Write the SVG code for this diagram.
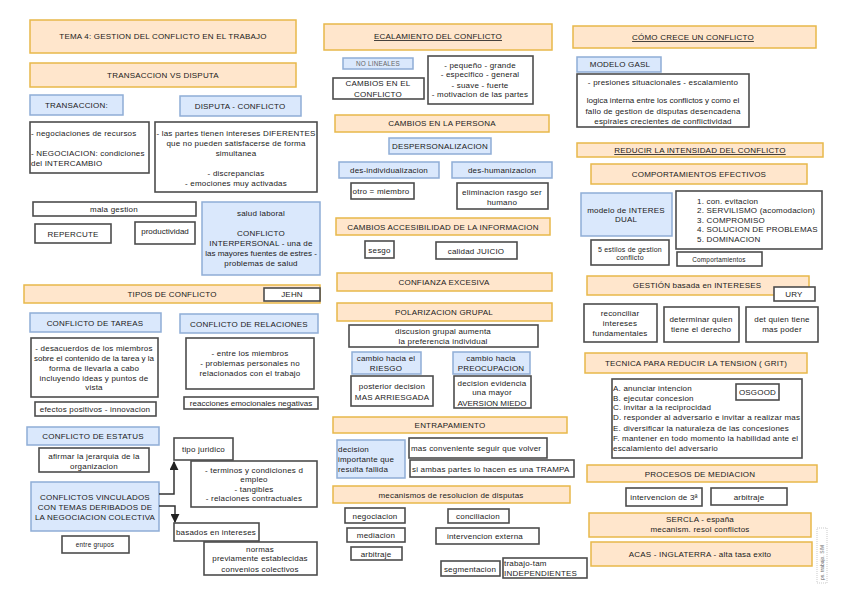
<svg xmlns="http://www.w3.org/2000/svg" width="848" height="599" viewBox="0 0 848 599">
<defs>
<style>
.o{fill:#ffe6cc;stroke:#e8b84a;stroke-width:1.5}
.b{fill:#dae8fc;stroke:#8fadd6;stroke-width:1.5}
.w{fill:#fff;stroke:#4d4d4d;stroke-width:1.6}
text{font-family:"Liberation Sans",Arial,sans-serif;font-size:8px;letter-spacing:0.2px;fill:#1a1a1a}
.c{text-anchor:middle}
.s{font-size:6.4px}
.u{text-decoration:underline}
.g{fill:#666}
.con{fill:none;stroke:#333;stroke-width:1.5}
</style>
<marker id="ah" viewBox="0 0 10 10" refX="9" refY="5" markerWidth="6" markerHeight="6" orient="auto"><path d="M0,0 L10,5 L0,10 z" fill="#222"/></marker>
</defs>
<rect width="848" height="599" fill="#fff"/>

<!-- Column 1 -->
<g id="tema"><rect class="o" x="30" y="20" width="266" height="33"/><text class="c" x="163" y="39">TEMA 4: GESTION DEL CONFLICTO EN EL TRABAJO</text></g>
<g id="transvsdisp"><rect class="o" x="30" y="63" width="266" height="24"/><text class="c" x="163" y="78">TRANSACCION VS DISPUTA</text></g>
<g id="transaccion"><rect class="b" x="30" y="95" width="93" height="20"/><text x="45" y="108">TRANSACCION:</text></g>
<g id="disputa"><rect class="b" x="180" y="96" width="121" height="20"/><text class="c" x="240" y="109">DISPUTA  - CONFLICTO</text></g>
<g id="negoc"><rect class="w" x="30" y="122" width="119" height="51"/><text x="31" y="136">- negociaciones de recursos</text><text x="31" y="156">- NEGOCIACION:  condiciones</text><text x="31" y="166">del INTERCAMBIO</text></g>
<g id="partes"><rect class="w" x="155" y="122" width="162" height="70"/><text class="c" x="236" y="136">- las partes tienen intereses DIFERENTES</text><text class="c" x="236" y="146">que no pueden satisfacerse de forma</text><text class="c" x="236" y="156">simultanea</text><text class="c" x="236" y="176">- discrepancias</text><text class="c" x="236" y="186">- emociones muy activadas</text></g>
<g id="mala"><rect class="w" x="33" y="202" width="163" height="14"/><text class="c" x="114" y="212">mala gestion</text></g>
<g id="repercute"><rect class="w" x="35" y="224" width="76" height="19"/><text class="c" x="73" y="236.5">REPERCUTE</text></g>
<g id="productividad"><rect class="w" x="135" y="222" width="60" height="22"/><text class="c" x="165" y="234" style="letter-spacing:0">productividad</text></g>
<g id="salud"><rect class="b" x="202" y="202" width="118" height="73"/><text class="c" x="261" y="216">salud laboral</text><text class="c" x="261" y="236">CONFLICTO</text><text class="c" x="261" y="246">INTERPERSONAL -  una de</text><text class="c" x="261" y="256" style="letter-spacing:0">las mayores fuentes de estres -</text><text class="c" x="261" y="266">problemas de salud</text></g>
<g id="tipos"><rect class="o" x="24" y="285" width="296" height="18"/><text class="c" x="172" y="297">TIPOS DE CONFLICTO</text></g>
<g id="jehn"><rect class="w" x="264" y="288" width="56" height="13"/><text class="c" x="292" y="297">JEHN</text></g>
<g id="tareas"><rect class="b" x="30" y="313" width="131" height="19"/><text class="c" x="95" y="325.5">CONFLICTO DE TAREAS</text></g>
<g id="relaciones"><rect class="b" x="180" y="314" width="138" height="19"/><text class="c" x="249" y="326.5">CONFLICTO DE RELACIONES</text></g>
<g id="tareasdesc"><rect class="w" x="31" y="338" width="127" height="59"/><text class="c" x="94" y="351">- desacuerdos de los miembros</text><text class="c" x="94" y="361" style="letter-spacing:0">sobre el contenido de la tarea y la</text><text class="c" x="94" y="371">forma de llevarla a cabo</text><text class="c" x="94" y="381">incluyendo ideas y puntos de</text><text class="c" x="94" y="390">vista</text></g>
<g id="reldesc"><rect class="w" x="186" y="338" width="128" height="51"/><text class="c" x="250" y="356">- entre los miembros</text><text class="c" x="250" y="366">- problemas personales no</text><text class="c" x="250" y="376">relacionados con el trabajo</text></g>
<g id="efectos"><rect class="w" x="35" y="402" width="121" height="14"/><text class="c" x="95" y="412">efectos positivos - innovacion</text></g>
<g id="reacciones"><rect class="w" x="184" y="397" width="134" height="12"/><text class="c" x="251" y="406" style="letter-spacing:0">reacciones emocionales negativas</text></g>
<g id="estatus"><rect class="b" x="27" y="427" width="132" height="18"/><text class="c" x="93" y="439">CONFLICTO DE ESTATUS</text></g>
<g id="afirmar"><rect class="w" x="39" y="448" width="110" height="24"/><text class="c" x="94" y="459">afirmar la jerarquia de la</text><text class="c" x="94" y="469">organizacion</text></g>
<g id="vinculados"><rect class="b" x="31" y="482" width="128" height="49"/><text class="c" x="95" y="500">CONFLICTOS VINCULADOS</text><text class="c" x="95" y="510">CON TEMAS DERIBADOS DE</text><text class="c" x="95" y="520">LA NEGOCIACION COLECTIVA</text></g>
<g id="entregrupos"><rect class="w" x="62" y="536" width="67" height="17"/><text class="c s" x="95" y="547">entre grupos</text></g>
<g id="juridico"><rect class="w" x="174" y="438" width="59" height="22"/><text class="c" x="203.5" y="452">tipo juridico</text></g>
<g id="terminos"><rect class="w" x="191" y="461" width="126" height="46"/><text class="c" x="254" y="473">- terminos y condiciones d</text><text class="c" x="254" y="482">empleo</text><text class="c" x="254" y="492">- tangibles</text><text class="c" x="254" y="501">- relaciones contractuales</text></g>
<g id="basados"><rect class="w" x="174" y="523" width="85" height="18"/><text class="c" x="216" y="535">basados en intereses</text></g>
<g id="normas"><rect class="w" x="204" y="542" width="113" height="33"/><text class="c" x="260" y="552">normas</text><text class="c" x="260" y="561">previamente establecidas</text><text class="c" x="260" y="572">convenios colectivos</text></g>

<!-- Column 2 -->
<g id="ecal"><rect class="o" x="324" y="24" width="228" height="26"/><text class="c u" x="438" y="39">ECALAMIENTO DEL CONFLICTO</text></g>
<g id="nolineales"><rect class="b" x="343" y="58" width="70" height="11"/><text class="c s g" x="378" y="66">NO LINEALES</text></g>
<g id="cambiosconf"><rect class="w" x="333" y="78" width="91" height="21"/><text class="c" x="378" y="86">CAMBIOS EN EL</text><text class="c" x="378" y="97">CONFLICTO</text></g>
<g id="pequeno"><rect class="w" x="428" y="56" width="105" height="48"/><text class="c" x="480" y="68">- pequeño - grande</text><text class="c" x="480" y="77">- especifico - general</text><text class="c" x="480" y="88">- suave - fuerte</text><text class="c" x="480" y="97">- motivacion de las partes</text></g>
<g id="persona"><rect class="o" x="335" y="115" width="214" height="17"/><text class="c" x="442" y="126">CAMBIOS EN LA PERSONA</text></g>
<g id="desperson"><rect class="b" x="389" y="138" width="102" height="16"/><text class="c" x="440" y="149">DESPERSONALIZACION</text></g>
<g id="desind"><rect class="b" x="339" y="162" width="100" height="16"/><text class="c" x="389" y="173">des-individualizacion</text></g>
<g id="deshum"><rect class="b" x="452" y="162" width="100" height="16"/><text class="c" x="502" y="173">des-humanizacion</text></g>
<g id="otro"><rect class="w" x="351" y="183" width="63" height="16"/><text class="c" x="381" y="194">otro = miembro</text></g>
<g id="elim"><rect class="w" x="457" y="183" width="91" height="26"/><text class="c" x="502" y="195">eliminacion rasgo ser</text><text class="c" x="502" y="205">humano</text></g>
<g id="accesib"><rect class="o" x="336" y="218" width="214" height="17"/><text class="c" x="443" y="229.5">CAMBIOS ACCESIBILIDAD DE LA INFORMACION</text></g>
<g id="sesgo"><rect class="w" x="365" y="241" width="29" height="17"/><text class="c" x="379.5" y="252.5">sesgo</text></g>
<g id="calidad"><rect class="w" x="436" y="242" width="81" height="17"/><text class="c" x="476" y="253.5">calidad JUICIO</text></g>
<g id="confianza"><rect class="o" x="337" y="273" width="215" height="18"/><text class="c" x="444" y="285">CONFIANZA EXCESIVA</text></g>
<g id="polar"><rect class="o" x="337" y="303" width="215" height="18"/><text class="c" x="444" y="315">POLARIZACION GRUPAL</text></g>
<g id="discusion"><rect class="w" x="349" y="325" width="189" height="22"/><text class="c" x="443" y="334">discusion grupal aumenta</text><text class="c" x="443" y="344">la preferencia individual</text></g>
<g id="riesgo"><rect class="b" x="352" y="352" width="69" height="22"/><text class="c" x="386" y="361">cambio hacia el</text><text class="c" x="386" y="371">RIESGO</text></g>
<g id="preoc"><rect class="b" x="453" y="352" width="77" height="22"/><text class="c" x="491" y="361">cambio hacia</text><text class="c" x="491" y="371">PREOCUPACION</text></g>
<g id="posterior"><rect class="w" x="351" y="376" width="82" height="30"/><text class="c" x="392" y="389">posterior decision</text><text class="c" x="392" y="400">MAS ARRIESGADA</text></g>
<g id="aversion"><rect class="w" x="454" y="376" width="77" height="32"/><text class="c" x="492" y="386">decision evidencia</text><text class="c" x="492" y="395">una mayor</text><text class="c" x="492" y="406" style="letter-spacing:0">AVERSION MIEDO</text></g>
<g id="entrap"><rect class="o" x="333" y="417" width="234" height="16"/><text class="c" x="450" y="428">ENTRAPAMIENTO</text></g>
<g id="fallida"><rect class="b" x="337" y="440" width="68" height="38"/><text x="338" y="452">decision</text><text x="338" y="462">importante que</text><text x="338" y="472">resulta fallida</text></g>
<g id="conveniente"><rect class="w" x="409" y="438" width="138" height="20"/><text x="411" y="451">mas conveniente seguir que volver</text></g>
<g id="trampa"><rect class="w" x="410" y="460" width="164" height="17"/><text x="412" y="471.5">si ambas partes lo hacen es una TRAMPA</text></g>
<g id="mecanismos"><rect class="o" x="333" y="486" width="237" height="17"/><text class="c" x="451" y="497.5">mecanismos de resolucion de disputas</text></g>
<g id="negociacion"><rect class="w" x="345" y="508" width="60" height="15"/><text class="c" x="375" y="518.5">negociacion</text></g>
<g id="conciliacion"><rect class="w" x="448" y="509" width="61" height="14"/><text class="c" x="478" y="519">conciliacion</text></g>
<g id="mediacion"><rect class="w" x="347" y="528" width="58" height="14"/><text class="c" x="376" y="538">mediacion</text></g>
<g id="externa"><rect class="w" x="436" y="528" width="103" height="16"/><text class="c" x="485" y="539">intervencion externa</text></g>
<g id="arbitraje1"><rect class="w" x="351" y="547" width="51" height="13"/><text class="c" x="376" y="556.5">arbitraje</text></g>
<g id="segment"><rect class="w" x="441" y="561" width="59" height="15"/><text class="c" x="470" y="571.5">segmentacion</text></g>
<g id="indep"><rect class="w" x="503" y="558" width="84" height="20"/><text x="504" y="566">trabajo-tam</text><text x="504" y="576">INDEPENDIENTES</text></g>

<!-- Column 3 -->
<g id="crece"><rect class="o" x="573" y="26" width="243" height="22"/><text class="c u" x="693" y="40">CÓMO CRECE UN CONFLICTO</text></g>
<g id="gasl"><rect class="b" x="577" y="57" width="84" height="15"/><text class="c" x="620" y="67">MODELO GASL</text></g>
<g id="presiones"><rect class="w" x="577" y="74" width="172" height="53"/><text class="c" x="663" y="85">- presiones situacionales - escalamiento</text><text class="c" x="663" y="103" style="letter-spacing:0">logica interna entre los conflictos y como el</text><text class="c" x="663" y="114">fallo de gestion de disputas desencadena</text><text class="c" x="663" y="124">espirales crecientes de conflictividad</text></g>
<g id="reducir"><rect class="o" x="577" y="143" width="246" height="14"/><text class="c u" x="700" y="153">REDUCIR LA INTENSIDAD DEL CONFLICTO</text></g>
<g id="comport"><rect class="o" x="591" y="164" width="216" height="20"/><text class="c" x="699" y="177">COMPORTAMIENTOS EFECTIVOS</text></g>
<g id="dual"><rect class="b" x="581" y="193" width="91" height="43"/><text class="c" x="626" y="213">modelo de INTERES</text><text class="c" x="626" y="222">DUAL</text></g>
<g id="lista"><rect class="w" x="676" y="191" width="146" height="58"/><text x="697" y="204">1. con. evitacion</text><text x="697" y="213">2. SERVILISMO (acomodacion)</text><text x="697" y="223">3. COMPROMISO</text><text x="697" y="232">4. SOLUCION DE PROBLEMAS</text><text x="697" y="242">5. DOMINACION</text></g>
<g id="estilos"><rect class="w" x="591" y="240" width="78" height="25"/><text class="c" x="630" y="252" style="font-size:7px">5 estilos de gestion</text><text class="c" x="630" y="260" style="font-size:7px">conflicto</text></g>
<g id="comportamientos"><rect class="w" x="677" y="252" width="85" height="14"/><text class="c s" x="719" y="261.5">Comportamientos</text></g>
<g id="gestion"><rect class="o" x="587" y="276" width="222" height="19"/><text class="c" x="697" y="288">GESTIÓN basada en INTERESES</text></g>
<g id="ury"><rect class="w" x="774" y="287" width="41" height="14"/><text class="c" x="794" y="297">URY</text></g>
<g id="reconciliar"><rect class="w" x="584" y="304" width="73" height="38"/><text class="c" x="620" y="316">reconciliar</text><text class="c" x="620" y="326">intereses</text><text class="c" x="620" y="336">fundamentales</text></g>
<g id="derecho"><rect class="w" x="664" y="307" width="75" height="35"/><text class="c" x="701" y="322">determinar quien</text><text class="c" x="701" y="332">tiene el derecho</text></g>
<g id="poder"><rect class="w" x="746" y="307" width="72" height="35"/><text class="c" x="782" y="322">det quien tiene</text><text class="c" x="782" y="332">mas poder</text></g>
<g id="tecnica"><rect class="o" x="585" y="353" width="222" height="20"/><text class="c" x="696" y="366">TECNICA PARA REDUCIR LA TENSION ( GRIT)</text></g>
<g id="grit"><rect class="w" x="612" y="379" width="190" height="79"/><text x="613" y="391">A. anunciar intencion</text><text x="613" y="401">B. ejecutar concesion</text><text x="613" y="410">C. invitar a la reciprocidad</text><text x="613" y="420">D. responder al adversario e invitar a realizar mas</text><text x="613" y="431">E. diversificar la naturaleza de las concesiones</text><text x="613" y="441">F. mantener en todo momento la habilidad ante el</text><text x="613" y="451">escalamiento del adversario</text></g>
<g id="osgood"><rect class="w" x="736" y="384" width="43" height="16"/><text class="c" x="757.5" y="395">OSGOOD</text></g>
<g id="procesos"><rect class="o" x="587" y="465" width="230" height="17"/><text class="c" x="700" y="476.5">PROCESOS DE MEDIACION</text></g>
<g id="interv3"><rect class="w" x="626" y="488" width="76" height="18"/><text class="c" x="664" y="500">intervencion de 3ª</text></g>
<g id="arbitraje2"><rect class="w" x="711" y="488" width="76" height="17"/><text class="c" x="749" y="499.5">arbitraje</text></g>
<g id="sercla"><rect class="o" x="589" y="513" width="222" height="24"/><text class="c" x="700" y="522">SERCLA - españa</text><text class="c" x="700" y="532">mecanism. resol conflictos</text></g>
<g id="acas"><rect class="o" x="591" y="542" width="221" height="24"/><text class="c" x="700" y="557">ACAS - INGLATERRA - alta tasa exito</text></g>
<g id="firma"><rect x="817" y="528" width="10" height="55" fill="none" stroke="#bbb" stroke-width="0.8" stroke-dasharray="1,1"/><text class="g" x="0" y="0" transform="translate(824,580) rotate(-90)" style="font-size:5px;letter-spacing:0">ps. trabajo.  SIM</text></g>

<!-- Connectors -->
<g id="connectors">
<path class="con" d="M159,494 H174 V462" marker-end="url(#ah)"/>
<path class="con" d="M159,506 H175 V522" marker-end="url(#ah)"/>
</g>
</svg>
